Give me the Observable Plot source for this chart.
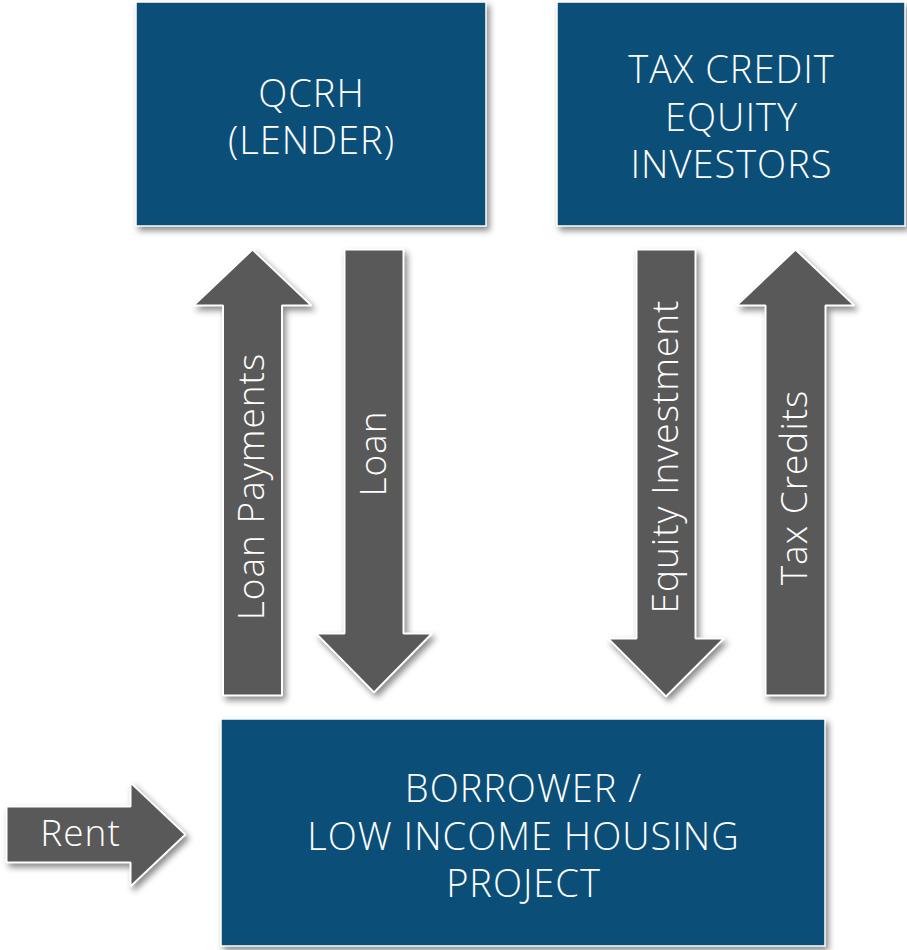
<!DOCTYPE html>
<html>
<head>
<meta charset="utf-8">
<script src="https://cdn.jsdelivr.net/npm/d3@7"></script>
<script src="https://cdn.jsdelivr.net/npm/@observablehq/plot@0.6"></script>
<style>
  html, body { margin: 0; padding: 0; background: #ffffff; }
  #chart svg { display: block; }
  #chart svg text { letter-spacing: 1px; }
</style>
</head>
<body>
<div id="chart"></div>
<script>
// Boxes (diagram units = pixels)
const boxLabels = ["QCRH\n(LENDER)", "TAX CREDIT\nEQUITY\nINVESTORS", "BORROWER /\nLOW INCOME HOUSING\nPROJECT"];
const boxX1 = [136, 557, 221];
const boxX2 = [486, 905, 825];
const boxY1 = [2, 2, 719];
const boxY2 = [226, 226, 946];
const boxTextY = [115, 115, 834];

// Arrows
const arrowLabels = ["Loan Payments", "Loan", "Equity Investment", "Tax Credits", "Rent"];
const arrowDir    = ["up", "down", "down", "up", "right"];
const arrowCenter = [252, 373.5, 665.5, 795, 834];   // x for vertical, y for horizontal
const arrowTail   = [695, 249, 249, 695, 6];
const arrowTip    = [249, 692, 696, 249, 185];
const arrowShaftW = [59, 59, 59, 60, 56];
const arrowHeadW  = [118, 116, 116, 118, 104];
const arrowHeadL  = [56, 59, 58, 56, 55];
const arrowLabelPos = [486, 453, 456, 487, 80]; // along-axis position of label

const BOX_COLOR = "#0b4f79";
const ARROW_COLOR = "#595959";

const boxes = boxLabels.map((label, i) => ({
  label, x1: boxX1[i], x2: boxX2[i], y1: boxY1[i], y2: boxY2[i],
  cx: (boxX1[i] + boxX2[i]) / 2, cy: boxTextY[i]
}));

function arrowPoints(i) {
  const dir = arrowDir[i], c = arrowCenter[i], t = arrowTail[i], p = arrowTip[i];
  const s = arrowShaftW[i] / 2, h = arrowHeadW[i] / 2, L = arrowHeadL[i];
  const sgn = p > t ? 1 : -1;
  const b = p - sgn * L; // head base
  const along = [[t, -s], [b, -s], [b, -h], [p, 0], [b, h], [b, s], [t, s], [t, -s]];
  const pts = dir === "right"
    ? along.map(([a, q]) => ({x: a, y: c + q}))
    : along.map(([a, q]) => ({x: c + q, y: a}));
  return pts.map(d => ({...d, id: i}));
}
const arrowPolys = arrowLabels.flatMap((_, i) => arrowPoints(i));
const arrowTexts = arrowLabels.map((label, i) => arrowDir[i] === "right"
  ? {label, x: arrowLabelPos[i], y: arrowCenter[i], rotate: 0}
  : {label, x: arrowCenter[i], y: arrowLabelPos[i], rotate: -90});

const shadow = "drop-shadow(3px 4px 3px rgba(0,0,0,0.45))";

const chart = Plot.plot({
  width: 907,
  height: 950,
  margin: 0,
  x: {domain: [0, 907], range: [0, 907], axis: null},
  y: {domain: [0, 950], range: [0, 950], axis: null},
  style: {fontFamily: "'Open Sans', 'Noto Sans', sans-serif", background: "#ffffff"},
  marks: [
    Plot.rect(boxes, {x1: "x1", x2: "x2", y1: "y1", y2: "y2", fill: BOX_COLOR, stroke: "#ffffff", strokeWidth: 1.5, imageFilter: shadow}),
    Plot.line(arrowPolys, {x: "x", y: "y", z: "id", fill: ARROW_COLOR, stroke: "#ffffff", strokeWidth: 2, curve: "linear", strokeLinejoin: "miter", imageFilter: shadow}),
    Plot.text(boxes, {x: "cx", y: "cy", text: "label", fill: "#ffffff", fontSize: 38, fontWeight: 300, lineHeight: 1.24, textAnchor: "middle", lineAnchor: "middle"}),
    Plot.text(arrowTexts, {x: "x", y: "y", text: "label", rotate: "rotate", fill: "#ffffff", fontSize: 37, fontWeight: 300, textAnchor: "middle", lineAnchor: "middle"})
  ]
});
document.getElementById("chart").appendChild(chart);
</script>
</body>
</html>
